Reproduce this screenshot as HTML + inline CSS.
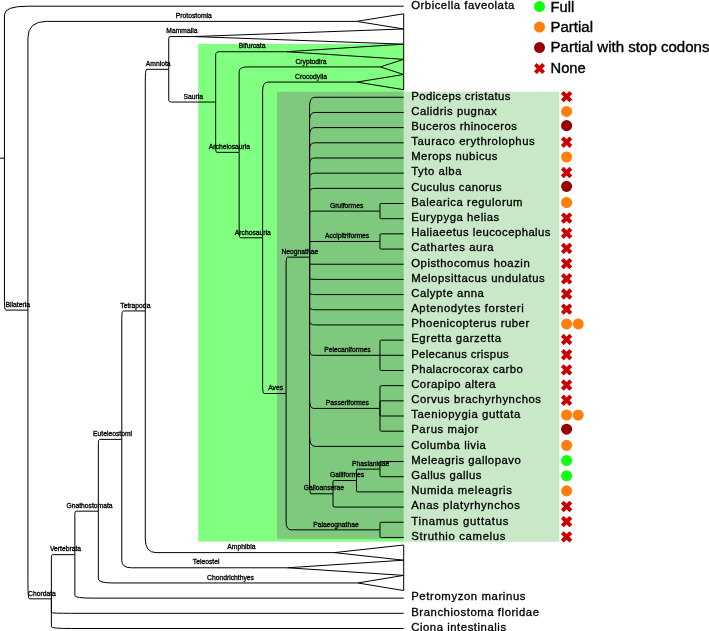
<!DOCTYPE html>
<html><head><meta charset="utf-8"><title>tree</title>
<style>
html,body{margin:0;padding:0;background:#fff;}
body{width:709px;height:631px;overflow:hidden;}
svg{display:block;will-change:transform;}
.b{fill:none;stroke:#000;stroke-width:1;}
.n{font-family:"Liberation Sans",sans-serif;font-size:6.75px;fill:#000;stroke:#000;stroke-width:0.3px;}
.l{font-family:"Liberation Sans",sans-serif;font-size:10.6px;fill:#000;stroke:#000;stroke-width:0.3px;}
.g text{font-family:"Liberation Sans",sans-serif;font-size:14px;fill:#000;stroke:#000;stroke-width:0.35px;}
</style></head><body>
<svg width="709" height="631" viewBox="0 0 709 631">
<rect x="0" y="0" width="709" height="631" fill="#fff"/>
<rect x="198.25" y="43.9" width="205.55" height="497.7" fill="#80ff80"/>
<rect x="277" y="91.7" width="126.8" height="447.2" fill="#7fc97f"/>
<rect x="403.8" y="91.7" width="155.5" height="450.1" fill="#c8e8c8"/>
<g class="b">
<path d="M4.45,158.15V14.86Q4.45,6.2 27.21,6.2H403.7"/>
<path d="M4.45,158.15V301.44Q4.45,310.1 5.79,310.1H27.92"/>
<path d="M27.92,310.1V37.84Q27.92,21.38 46.66,21.38H356.75"/>
<path d="M27.92,310.1V582.37Q27.92,598.82 29.26,598.82H51.39"/>
<path d="M51.39,598.82V557.17Q51.39,554.65 52.73,554.65H74.86"/>
<path d="M74.86,554.65V513.65Q74.86,511.17 76.2,511.17H98.33"/>
<path d="M98.33,511.17V443.46Q98.33,439.37 99.67,439.37H121.8"/>
<path d="M121.8,439.37V318.27Q121.8,310.95 123.14,310.95H145.27"/>
<path d="M145.27,310.95V83.07Q145.27,69.3 146.61,69.3H168.74"/>
<path d="M168.74,69.3V38.42Q168.74,36.56 170.15,36.56H193.48"/>
<path d="M168.74,69.3V100.18Q168.74,102.04 171.42,102.04H215.68"/>
<path d="M215.68,102.04V54.6Q215.68,51.73 219.71,51.73H286.39"/>
<path d="M215.68,102.04V149.49Q215.68,152.35 217.02,152.35H239.15"/>
<path d="M239.15,152.35V71.78Q239.15,66.91 247.2,66.91H380.3"/>
<path d="M239.15,152.35V232.93Q239.15,237.8 240.49,237.8H262.62"/>
<path d="M262.62,237.8V90.97Q262.62,82.09 267.99,82.09H356.86"/>
<path d="M262.62,237.8V384.63Q262.62,393.5 263.96,393.5H286.09"/>
<path d="M286.09,393.5V264.94Q286.09,257.16 287.43,257.16H309.56"/>
<path d="M309.56,257.16V106.38Q309.56,97.27 314.93,97.27H403.7"/>
<path d="M309.56,257.16V120.69Q309.56,112.45 314.93,112.45H403.7"/>
<path d="M309.56,257.16V135.01Q309.56,127.62 314.93,127.62H403.7"/>
<path d="M309.56,257.16V149.32Q309.56,142.8 314.93,142.8H403.7"/>
<path d="M309.56,257.16V163.63Q309.56,157.98 314.93,157.98H403.7"/>
<path d="M309.56,257.16V177.95Q309.56,173.16 314.93,173.16H403.7"/>
<path d="M309.56,257.16V192.26Q309.56,188.34 314.93,188.34H403.7"/>
<path d="M309.56,257.16V213.73Q309.56,211.1 313.57,211.1H379.97"/>
<path d="M379.97,211.1V203.95Q379.97,203.51 381.32,203.51H403.7"/>
<path d="M379.97,211.1V218.26Q379.97,218.69 381.32,218.69H403.7"/>
<path d="M309.56,257.16V242.35Q309.56,241.46 313.57,241.46H379.97"/>
<path d="M379.97,241.46V234.3Q379.97,233.87 381.32,233.87H403.7"/>
<path d="M379.97,241.46V248.62Q379.97,249.05 381.32,249.05H403.7"/>
<path d="M309.56,257.16V263.82Q309.56,264.23 314.93,264.23H403.7"/>
<path d="M309.56,257.16V278.14Q309.56,279.4 314.93,279.4H403.7"/>
<path d="M309.56,257.16V292.45Q309.56,294.58 314.93,294.58H403.7"/>
<path d="M309.56,257.16V306.76Q309.56,309.76 314.93,309.76H403.7"/>
<path d="M309.56,257.16V321.07Q309.56,324.94 314.93,324.94H403.7"/>
<path d="M309.56,257.16V349.7Q309.56,355.29 313.57,355.29H379.97"/>
<path d="M379.97,355.29V340.98Q379.97,340.12 381.32,340.12H403.7"/>
<path d="M379.97,355.29H403.7"/>
<path d="M379.97,355.29V369.61Q379.97,370.47 381.32,370.47H403.7"/>
<path d="M309.56,257.16V399.8Q309.56,408.42 313.57,408.42H379.97"/>
<path d="M379.97,408.42V386.95Q379.97,385.65 381.32,385.65H403.7"/>
<path d="M379.97,408.42V401.26Q379.97,400.83 381.32,400.83H403.7"/>
<path d="M379.97,408.42V415.57Q379.97,416.01 381.32,416.01H403.7"/>
<path d="M379.97,408.42V429.89Q379.97,431.18 381.32,431.18H403.7"/>
<path d="M309.56,257.16V435.58Q309.56,446.36 314.93,446.36H403.7"/>
<path d="M309.56,257.16V480.31Q309.56,493.79 310.9,493.79H333.03"/>
<path d="M333.03,493.79V481.27Q333.03,480.51 334.37,480.51H356.5"/>
<path d="M356.5,480.51V469.78Q356.5,469.13 357.84,469.13H379.97"/>
<path d="M379.97,469.13V461.97Q379.97,461.54 381.32,461.54H403.7"/>
<path d="M379.97,469.13V476.29Q379.97,476.72 381.32,476.72H403.7"/>
<path d="M356.5,480.51V491.25Q356.5,491.9 359.19,491.9H403.7"/>
<path d="M333.03,493.79V506.32Q333.03,507.07 337.06,507.07H403.7"/>
<path d="M286.09,393.5V522.07Q286.09,529.84 291.44,529.84H379.97"/>
<path d="M379.97,529.84V522.68Q379.97,522.25 381.32,522.25H403.7"/>
<path d="M379.97,529.84V537Q379.97,537.43 381.32,537.43H403.7"/>
<path d="M145.27,310.95V538.83Q145.27,552.61 156.04,552.61H334.28"/>
<path d="M121.8,439.37V560.47Q121.8,567.79 131.24,567.79H287.37"/>
<path d="M98.33,511.17V578.87Q98.33,582.96 113.12,582.96H357.81"/>
<path d="M74.86,554.65V595.66Q74.86,598.14 93.6,598.14H403.7"/>
<path d="M51.39,598.82V612.49Q51.39,613.32 71.47,613.32H403.7"/>
<path d="M51.39,598.82V626.81Q51.39,628.5 71.47,628.5H403.7"/>
<path d="M0,158.15H4.45"/>
<path d="M356.75,21.38L403.7,13.79V28.97Z" stroke-linejoin="miter"/>
<path d="M193.48,36.56L403.7,28.97V44.15Z" stroke-linejoin="miter"/>
<path d="M286.39,51.73L403.7,44.15V59.32Z" stroke-linejoin="miter"/>
<path d="M380.3,66.91L403.7,59.32V74.5Z" stroke-linejoin="miter"/>
<path d="M356.86,82.09L403.7,74.5V89.68Z" stroke-linejoin="miter"/>
<path d="M334.28,552.61L403.7,545.02V560.2Z" stroke-linejoin="miter"/>
<path d="M287.37,567.79L403.7,560.2V575.38Z" stroke-linejoin="miter"/>
<path d="M357.81,582.96L403.7,575.38V590.55Z" stroke-linejoin="miter"/>
</g>
<g class="n">
<text x="5.58" y="306.8">Bilateria</text>
<text x="175.77" y="18.08">Protostomia</text>
<text x="28.06" y="595.52">Chordata</text>
<text x="49.91" y="551.35">Vertebrata</text>
<text x="66.47" y="507.87">Gnathostomata</text>
<text x="93.05" y="436.07">Euteleostomi</text>
<text x="120.37" y="307.65">Tetrapoda</text>
<text x="145.78" y="66">Amniota</text>
<text x="166.29" y="33.26">Mammalia</text>
<text x="183.43" y="98.74">Sauria</text>
<text x="238.77" y="48.43">Bifurcata</text>
<text x="208.83" y="149.05">Archelosauria</text>
<text x="295.43" y="63.61">Cryptodira</text>
<text x="234.85" y="234.5">Archosauria</text>
<text x="295.11" y="78.79">Crocodylia</text>
<text x="268.23" y="390.2">Aves</text>
<text x="281.48" y="253.86">Neognathae</text>
<text x="329.88" y="207.8">Gruiformes</text>
<text x="324.99" y="238.16">Accipitriformes</text>
<text x="324.17" y="351.99">Pelecaniformes</text>
<text x="325.82" y="405.12">Passeriformes</text>
<text x="303.87" y="490.49">Galloanserae</text>
<text x="330.05" y="477.21">Galliformes</text>
<text x="352.12" y="465.83">Phasianidae</text>
<text x="313.27" y="526.54">Palaeognathae</text>
<text x="227.3" y="549.31">Amphibia</text>
<text x="192.8" y="564.49">Teleostei</text>
<text x="207.08" y="579.66">Chondrichthyes</text>
</g>
<g class="l">
<text transform="translate(411.2,8.5) scale(1.07,1)" textLength="96.45" lengthAdjust="spacing">Orbicella faveolata</text>
<text transform="translate(411.2,99.57) scale(1.07,1)" textLength="92.8" lengthAdjust="spacing">Podiceps cristatus</text>
<text transform="translate(411.2,114.75) scale(1.07,1)" textLength="79.95" lengthAdjust="spacing">Calidris pugnax</text>
<text transform="translate(411.2,129.92) scale(1.07,1)" textLength="98.88" lengthAdjust="spacing">Buceros rhinoceros</text>
<text transform="translate(411.2,145.1) scale(1.07,1)" textLength="115.47" lengthAdjust="spacing">Tauraco erythrolophus</text>
<text transform="translate(411.2,160.28) scale(1.07,1)" textLength="80.65" lengthAdjust="spacing">Merops nubicus</text>
<text transform="translate(411.2,175.46) scale(1.07,1)" textLength="47.01" lengthAdjust="spacing">Tyto alba</text>
<text transform="translate(411.2,190.64) scale(1.07,1)" textLength="84.63" lengthAdjust="spacing">Cuculus canorus</text>
<text transform="translate(411.2,205.81) scale(1.07,1)" textLength="104.02" lengthAdjust="spacing">Balearica regulorum</text>
<text transform="translate(411.2,220.99) scale(1.07,1)" textLength="82.29" lengthAdjust="spacing">Eurypyga helias</text>
<text transform="translate(411.2,236.17) scale(1.07,1)" textLength="130.19" lengthAdjust="spacing">Haliaeetus leucocephalus</text>
<text transform="translate(411.2,251.35) scale(1.07,1)" textLength="77.01" lengthAdjust="spacing">Cathartes aura</text>
<text transform="translate(411.2,266.53) scale(1.07,1)" textLength="110.75" lengthAdjust="spacing">Opisthocomus hoazin</text>
<text transform="translate(411.2,281.7) scale(1.07,1)" textLength="124.77" lengthAdjust="spacing">Melopsittacus undulatus</text>
<text transform="translate(411.2,296.88) scale(1.07,1)" textLength="67.94" lengthAdjust="spacing">Calypte anna</text>
<text transform="translate(411.2,312.06) scale(1.07,1)" textLength="105.14" lengthAdjust="spacing">Aptenodytes forsteri</text>
<text transform="translate(411.2,327.24) scale(1.07,1)" textLength="110.28" lengthAdjust="spacing">Phoenicopterus ruber</text>
<text transform="translate(411.2,342.42) scale(1.07,1)" textLength="84.02" lengthAdjust="spacing">Egretta garzetta</text>
<text transform="translate(411.2,357.59) scale(1.07,1)" textLength="91.12" lengthAdjust="spacing">Pelecanus crispus</text>
<text transform="translate(411.2,372.77) scale(1.07,1)" textLength="104.21" lengthAdjust="spacing">Phalacrocorax carbo</text>
<text transform="translate(411.2,387.95) scale(1.07,1)" textLength="78.88" lengthAdjust="spacing">Corapipo altera</text>
<text transform="translate(411.2,403.13) scale(1.07,1)" textLength="121.31" lengthAdjust="spacing">Corvus brachyrhynchos</text>
<text transform="translate(411.2,418.31) scale(1.07,1)" textLength="102.06" lengthAdjust="spacing">Taeniopygia guttata</text>
<text transform="translate(411.2,433.48) scale(1.07,1)" textLength="62.8" lengthAdjust="spacing">Parus major</text>
<text transform="translate(411.2,448.66) scale(1.07,1)" textLength="69.81" lengthAdjust="spacing">Columba livia</text>
<text transform="translate(411.2,463.84) scale(1.07,1)" textLength="102.34" lengthAdjust="spacing">Meleagris gallopavo</text>
<text transform="translate(411.2,479.02) scale(1.07,1)" textLength="65.61" lengthAdjust="spacing">Gallus gallus</text>
<text transform="translate(411.2,494.2) scale(1.07,1)" textLength="94.11" lengthAdjust="spacing">Numida meleagris</text>
<text transform="translate(411.2,509.37) scale(1.07,1)" textLength="101.59" lengthAdjust="spacing">Anas platyrhynchos</text>
<text transform="translate(411.2,524.55) scale(1.07,1)" textLength="90.84" lengthAdjust="spacing">Tinamus guttatus</text>
<text transform="translate(411.2,539.73) scale(1.07,1)" textLength="88.04" lengthAdjust="spacing">Struthio camelus</text>
<text transform="translate(411.2,600.44) scale(1.07,1)" textLength="106.82" lengthAdjust="spacing">Petromyzon marinus</text>
<text transform="translate(411.2,615.62) scale(1.07,1)" textLength="119.44" lengthAdjust="spacing">Branchiostoma floridae</text>
<text transform="translate(411.2,630.8) scale(1.07,1)" textLength="88.69" lengthAdjust="spacing">Ciona intestinalis</text>
</g>
<g>
<polygon fill="#cc0000" points="563.75,90.97 566.6,93.82 569.45,90.97 572.3,93.82 569.45,96.67 572.3,99.52 569.45,102.37 566.6,99.52 563.75,102.37 560.9,99.52 563.75,96.67 560.9,93.82"/>
<circle cx="566.6" cy="111.45" r="5.55" fill="#ff7f0e"/>
<circle cx="566.6" cy="125.62" r="5.55" fill="#990000"/>
<polygon fill="#cc0000" points="563.75,136.5 566.6,139.35 569.45,136.5 572.3,139.35 569.45,142.2 572.3,145.05 569.45,147.9 566.6,145.05 563.75,147.9 560.9,145.05 563.75,142.2 560.9,139.35"/>
<circle cx="566.6" cy="156.98" r="5.55" fill="#ff7f0e"/>
<polygon fill="#cc0000" points="563.75,166.86 566.6,169.71 569.45,166.86 572.3,169.71 569.45,172.56 572.3,175.41 569.45,178.26 566.6,175.41 563.75,178.26 560.9,175.41 563.75,172.56 560.9,169.71"/>
<circle cx="566.6" cy="186.34" r="5.55" fill="#990000"/>
<circle cx="566.6" cy="202.51" r="5.55" fill="#ff7f0e"/>
<polygon fill="#cc0000" points="563.75,212.39 566.6,215.24 569.45,212.39 572.3,215.24 569.45,218.09 572.3,220.94 569.45,223.79 566.6,220.94 563.75,223.79 560.9,220.94 563.75,218.09 560.9,215.24"/>
<polygon fill="#cc0000" points="563.75,227.57 566.6,230.42 569.45,227.57 572.3,230.42 569.45,233.27 572.3,236.12 569.45,238.97 566.6,236.12 563.75,238.97 560.9,236.12 563.75,233.27 560.9,230.42"/>
<polygon fill="#cc0000" points="563.75,242.75 566.6,245.6 569.45,242.75 572.3,245.6 569.45,248.45 572.3,251.3 569.45,254.15 566.6,251.3 563.75,254.15 560.9,251.3 563.75,248.45 560.9,245.6"/>
<polygon fill="#cc0000" points="563.75,257.93 566.6,260.78 569.45,257.93 572.3,260.78 569.45,263.63 572.3,266.48 569.45,269.33 566.6,266.48 563.75,269.33 560.9,266.48 563.75,263.63 560.9,260.78"/>
<polygon fill="#cc0000" points="563.75,273.1 566.6,275.95 569.45,273.1 572.3,275.95 569.45,278.8 572.3,281.65 569.45,284.5 566.6,281.65 563.75,284.5 560.9,281.65 563.75,278.8 560.9,275.95"/>
<polygon fill="#cc0000" points="563.75,288.28 566.6,291.13 569.45,288.28 572.3,291.13 569.45,293.98 572.3,296.83 569.45,299.68 566.6,296.83 563.75,299.68 560.9,296.83 563.75,293.98 560.9,291.13"/>
<polygon fill="#cc0000" points="563.75,303.46 566.6,306.31 569.45,303.46 572.3,306.31 569.45,309.16 572.3,312.01 569.45,314.86 566.6,312.01 563.75,314.86 560.9,312.01 563.75,309.16 560.9,306.31"/>
<circle cx="566.6" cy="323.94" r="5.55" fill="#ff7f0e"/>
<circle cx="578.2" cy="323.94" r="5.55" fill="#ff7f0e"/>
<polygon fill="#cc0000" points="563.75,333.82 566.6,336.67 569.45,333.82 572.3,336.67 569.45,339.52 572.3,342.37 569.45,345.22 566.6,342.37 563.75,345.22 560.9,342.37 563.75,339.52 560.9,336.67"/>
<polygon fill="#cc0000" points="563.75,348.99 566.6,351.84 569.45,348.99 572.3,351.84 569.45,354.69 572.3,357.54 569.45,360.39 566.6,357.54 563.75,360.39 560.9,357.54 563.75,354.69 560.9,351.84"/>
<polygon fill="#cc0000" points="563.75,364.17 566.6,367.02 569.45,364.17 572.3,367.02 569.45,369.87 572.3,372.72 569.45,375.57 566.6,372.72 563.75,375.57 560.9,372.72 563.75,369.87 560.9,367.02"/>
<polygon fill="#cc0000" points="563.75,379.35 566.6,382.2 569.45,379.35 572.3,382.2 569.45,385.05 572.3,387.9 569.45,390.75 566.6,387.9 563.75,390.75 560.9,387.9 563.75,385.05 560.9,382.2"/>
<polygon fill="#cc0000" points="563.75,394.53 566.6,397.38 569.45,394.53 572.3,397.38 569.45,400.23 572.3,403.08 569.45,405.93 566.6,403.08 563.75,405.93 560.9,403.08 563.75,400.23 560.9,397.38"/>
<circle cx="566.6" cy="415.01" r="5.55" fill="#ff7f0e"/>
<circle cx="578.2" cy="415.01" r="5.55" fill="#ff7f0e"/>
<circle cx="566.6" cy="429.18" r="5.55" fill="#990000"/>
<circle cx="566.6" cy="445.36" r="5.55" fill="#ff7f0e"/>
<circle cx="566.6" cy="460.54" r="5.55" fill="#10ff10"/>
<circle cx="566.6" cy="475.72" r="5.55" fill="#10ff10"/>
<circle cx="566.6" cy="490.9" r="5.55" fill="#ff7f0e"/>
<polygon fill="#cc0000" points="563.75,500.77 566.6,503.62 569.45,500.77 572.3,503.62 569.45,506.47 572.3,509.32 569.45,512.17 566.6,509.32 563.75,512.17 560.9,509.32 563.75,506.47 560.9,503.62"/>
<polygon fill="#cc0000" points="563.75,515.95 566.6,518.8 569.45,515.95 572.3,518.8 569.45,521.65 572.3,524.5 569.45,527.35 566.6,524.5 563.75,527.35 560.9,524.5 563.75,521.65 560.9,518.8"/>
<polygon fill="#cc0000" points="563.75,531.13 566.6,533.98 569.45,531.13 572.3,533.98 569.45,536.83 572.3,539.68 569.45,542.53 566.6,539.68 563.75,542.53 560.9,539.68 563.75,536.83 560.9,533.98"/>
</g>
<g class="g">
<circle cx="539.5" cy="6.6" r="5.5" fill="#10ff10"/>
<text x="550.5" y="12.1" textLength="23.7" lengthAdjust="spacingAndGlyphs">Full</text>
<circle cx="539.5" cy="27" r="5.5" fill="#ff7f0e"/>
<text x="550.5" y="32" textLength="42.5" lengthAdjust="spacingAndGlyphs">Partial</text>
<circle cx="539.5" cy="47.6" r="5.5" fill="#990000"/>
<text x="550.5" y="51.7" textLength="159" lengthAdjust="spacingAndGlyphs">Partial with stop codons</text>
<polygon fill="#cc0000" points="536.75,62.9 539.5,65.65 542.25,62.9 545,65.65 542.25,68.4 545,71.15 542.25,73.9 539.5,71.15 536.75,73.9 534,71.15 536.75,68.4 534,65.65"/>
<text x="550.5" y="72.6" textLength="35.2" lengthAdjust="spacingAndGlyphs">None</text>
</g>
</svg>
</body></html>
